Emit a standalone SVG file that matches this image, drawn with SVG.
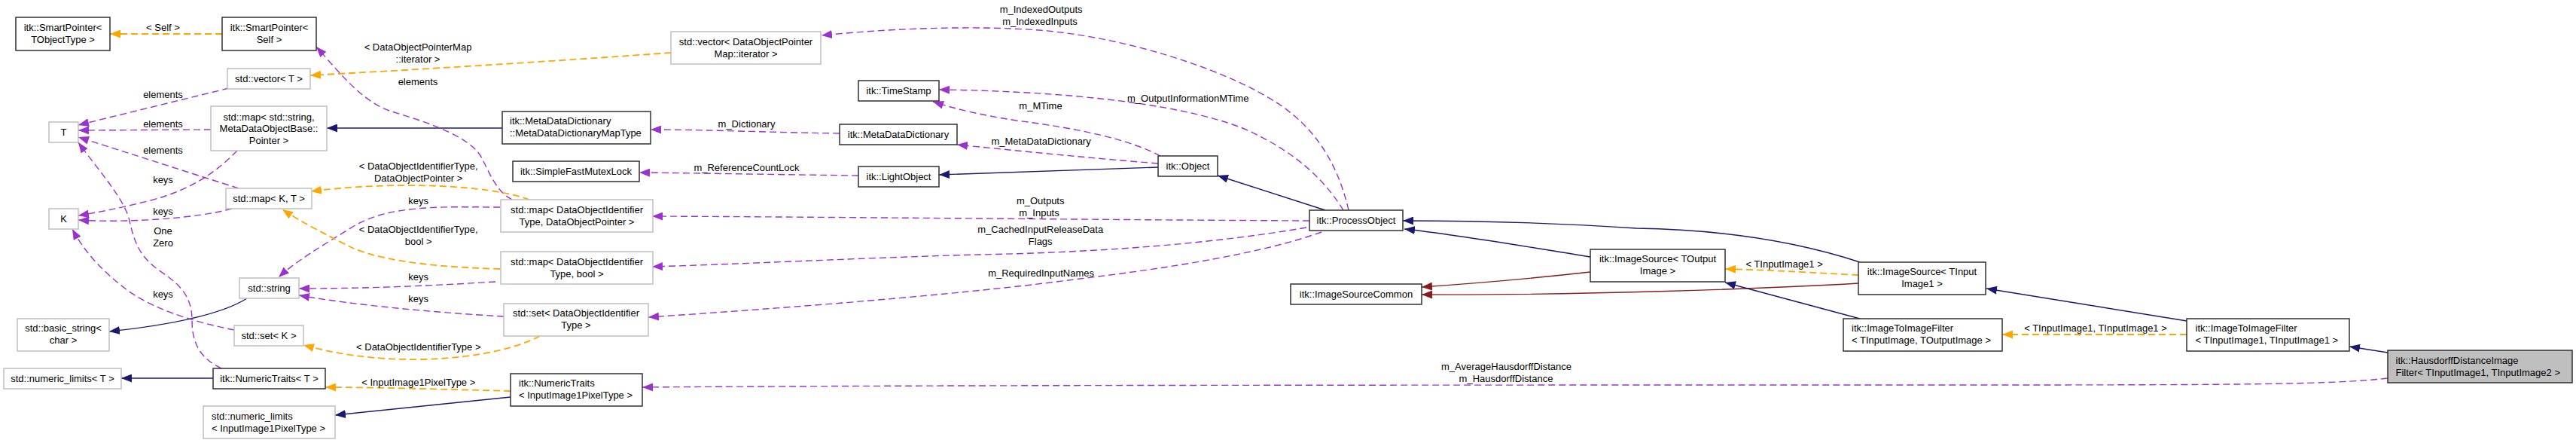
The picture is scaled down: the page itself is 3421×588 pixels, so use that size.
<svg xmlns="http://www.w3.org/2000/svg" width="3421" height="588" viewBox="0 0 3421 588">
<style>
text{font-family:"Liberation Sans",Arial,sans-serif;font-size:13px;fill:#000}
.c{text-anchor:middle}
.n rect{fill:#fff;stroke:#303030;stroke-width:1.5}
.g rect{fill:#fff;stroke:#bfbfbf;stroke-width:1.5}
.h rect{fill:#bfbfbf;stroke:#303030;stroke-width:1.5}
#edges path{fill:none;stroke-width:1.4}
.p{stroke:#9a32cd;stroke-dasharray:9,5}
.o{stroke:#ffa500;stroke-dasharray:9,5;stroke-width:1.8!important}
.b{stroke:#191970}
.r{stroke:#8b1a1a}
</style>
<defs>
<marker id="ap" markerUnits="userSpaceOnUse" markerWidth="14" markerHeight="11" viewBox="0 0 14 11" refX="14" refY="5.5" orient="auto"><path d="M0,0L14,5.5L0,11z" fill="#9a32cd"/></marker>
<marker id="ao" markerUnits="userSpaceOnUse" markerWidth="14" markerHeight="11" viewBox="0 0 14 11" refX="14" refY="5.5" orient="auto"><path d="M0,0L14,5.5L0,11z" fill="#ffa500"/></marker>
<marker id="ab" markerUnits="userSpaceOnUse" markerWidth="14" markerHeight="11" viewBox="0 0 14 11" refX="14" refY="5.5" orient="auto"><path d="M0,0L14,5.5L0,11z" fill="#191970"/></marker>
<marker id="ar" markerUnits="userSpaceOnUse" markerWidth="14" markerHeight="11" viewBox="0 0 14 11" refX="14" refY="5.5" orient="auto"><path d="M0,0L14,5.5L0,11z" fill="#8b1a1a"/></marker>
</defs>
<rect width="3421" height="588" fill="#fff"/>
<g id="edges">
<path class="o" marker-end="url(#ao)" d="M295,45L146,45"/>
<text class="c" x="216.5" y="40.5">&lt; Self &gt;</text>
<path class="o" marker-end="url(#ao)" d="M891,70C780,78 600,90 412,100"/>
<text class="c" x="555" y="67">&lt; DataObjectPointerMap</text>
<text class="c" x="555" y="83">::iterator &gt;</text>
<path class="p" marker-end="url(#ap)" d="M304,117L104,166"/>
<text class="c" x="216.5" y="129.5">elements</text>
<path class="p" marker-end="url(#ap)" d="M280,172L104,173"/>
<text class="c" x="216.5" y="168.8">elements</text>
<path class="p" marker-end="url(#ap)" d="M317,250L104,182"/>
<text class="c" x="216.5" y="203.8">elements</text>
<path class="p" marker-end="url(#ap)" d="M294,489C265,475 255,455 255,425C255,390 235,375 210,358C185,340 178,320 172,293C166,265 130,225 104,189"/>
<text class="c" x="216.5" y="311.2">One</text>
<text class="c" x="216.5" y="327.2">Zero</text>
<path class="p" marker-end="url(#ap)" d="M315,200C290,225 260,250 200,266C160,276 130,282 104,286"/>
<text class="c" x="216.5" y="243.2">keys</text>
<path class="p" marker-end="url(#ap)" d="M308,277C260,290 170,296 104,292"/>
<text class="c" x="216.5" y="284.5">keys</text>
<path class="p" marker-end="url(#ap)" d="M311,438C260,428 200,410 165,382C130,355 110,330 96,304"/>
<text class="c" x="216.5" y="395.2">keys</text>
<path class="b" marker-end="url(#ab)" d="M328,396C290,420 210,433 145,440"/>
<path class="b" marker-end="url(#ab)" d="M283,502L161,502"/>
<path class="b" marker-end="url(#ab)" d="M667,170L434,170"/>
<path class="p" marker-end="url(#ap)" d="M680,265C660,255 650,230 640,210C625,180 560,160 520,148C480,135 450,95 420,62"/>
<text class="c" x="555" y="113.2">elements</text>
<path class="o" marker-end="url(#ao)" d="M703,265C650,245 520,240 413,254"/>
<text class="c" x="555.7" y="225.2">&lt; DataObjectIdentifierType,</text>
<text class="c" x="555.7" y="241.2">DataObjectPointer &gt;</text>
<path class="p" marker-end="url(#ap)" d="M664,275C600,275 520,270 470,300C430,325 395,345 370,368"/>
<text class="c" x="555.7" y="271.2">keys</text>
<path class="o" marker-end="url(#ao)" d="M664,357C600,355 520,350 470,330C440,315 400,295 375,278"/>
<text class="c" x="555.7" y="309.2">&lt; DataObjectIdentifierType,</text>
<text class="c" x="555.7" y="325.2">bool &gt;</text>
<path class="p" marker-end="url(#ap)" d="M658,374C560,380 480,383 397,383"/>
<text class="c" x="555.7" y="372.2">keys</text>
<path class="p" marker-end="url(#ap)" d="M669,420C580,415 470,405 397,392"/>
<text class="c" x="555.7" y="401.2">keys</text>
<path class="o" marker-end="url(#ao)" d="M717,446C690,460 640,475 560,477C490,478 440,468 403,458"/>
<text class="c" x="555.8" y="465.2">&lt; DataObjectIdentifierType &gt;</text>
<path class="o" marker-end="url(#ao)" d="M678,519C600,517 500,514 432,514"/>
<text class="c" x="555.8" y="511.8">&lt; InputImage1PixelType &gt;</text>
<path class="b" marker-end="url(#ab)" d="M678,527L445,551"/>
<path class="p" marker-end="url(#ap)" d="M1115,177C1030,176 940,172 864,172"/>
<text class="c" x="991.5" y="169.2">m_Dictionary</text>
<path class="p" marker-end="url(#ap)" d="M1140,233C1050,232 940,230 849,229"/>
<text class="c" x="991.5" y="227.2">m_ReferenceCountLock</text>
<path class="b" marker-end="url(#ab)" d="M1538,222L1247,232"/>
<path class="p" marker-end="url(#ap)" d="M1541,207C1500,185 1430,170 1350,160C1300,152 1270,145 1239,135"/>
<text class="c" x="1382" y="145.2">m_MTime</text>
<path class="p" marker-end="url(#ap)" d="M1538,217C1450,210 1350,200 1271,192"/>
<text class="c" x="1382.6" y="192.2">m_MetaDataDictionary</text>
<path class="p" marker-end="url(#ap)" d="M1784,279C1760,240 1720,200 1650,170C1560,135 1400,121 1247,119"/>
<text class="c" x="1577.7" y="135.2">m_OutputInformationMTime</text>
<path class="p" marker-end="url(#ap)" d="M1791,279C1775,210 1740,160 1680,127C1620,92 1500,50 1380,40C1280,33 1170,39 1091,47"/>
<text class="c" x="1382.6" y="17.2">m_IndexedOutputs</text>
<text class="c" x="1381" y="33.2">m_IndexedInputs</text>
<path class="b" marker-end="url(#ab)" d="M1760,279L1617,233"/>
<path class="p" marker-end="url(#ap)" d="M1739,293C1500,292 1100,288 866,287"/>
<text class="c" x="1381.7" y="271.2">m_Outputs</text>
<text class="c" x="1380" y="287.2">m_Inputs</text>
<path class="p" marker-end="url(#ap)" d="M1735,302C1600,325 1450,335 1300,338C1150,342 1000,350 866,354"/>
<text class="c" x="1381.7" y="309.2">m_CachedInputReleaseData</text>
<text class="c" x="1381.7" y="325.2">Flags</text>
<path class="p" marker-end="url(#ap)" d="M1755,308C1680,335 1560,355 1434,370C1300,388 1100,405 861,421"/>
<text class="c" x="1382.6" y="367.2">m_RequiredInputNames</text>
<path class="b" marker-end="url(#ab)" d="M2470,348C2400,325 2300,305 2173,303C2070,296 1950,293 1863,293"/>
<path class="b" marker-end="url(#ab)" d="M2112,341C2030,328 1940,312 1865,304"/>
<path class="r" marker-end="url(#ar)" d="M2112,361C2050,368 1960,376 1888,381"/>
<path class="r" marker-end="url(#ar)" d="M2468,376C2350,383 2100,392 1888,391"/>
<path class="o" marker-end="url(#ao)" d="M2468,365C2410,362 2340,358 2291,357"/>
<text class="c" x="2369.6" y="355.2">&lt; TInputImage1 &gt;</text>
<path class="b" marker-end="url(#ab)" d="M2470,423L2291,375"/>
<path class="b" marker-end="url(#ab)" d="M2904,426L2638,383"/>
<path class="o" marker-end="url(#ao)" d="M2904,444L2659,444"/>
<text class="c" x="2783" y="440.2">&lt; TInputImage1, TInputImage1 &gt;</text>
<path class="b" marker-end="url(#ab)" d="M3171,468L3120,460"/>
<path class="p" marker-end="url(#ap)" d="M3171,502C3100,510 3000,511 2600,511C2000,511 1200,511 853,514"/>
<text class="c" x="2000.5" y="491.2">m_AverageHausdorffDistance</text>
<text class="c" x="2000" y="506.5">m_HausdorffDistance</text>
</g>
<g id="n_sp_tobj" class="n"><rect x="21" y="23" width="125" height="44"/><text class="c" x="83.5" y="40.5">itk::SmartPointer&lt;</text><text class="c" x="83.5" y="56.8">TObjectType &gt;</text></g>
<g id="n_sp_self" class="n"><rect x="295" y="23" width="125" height="44"/><text class="c" x="357.5" y="40.5">itk::SmartPointer&lt;</text><text class="c" x="357.5" y="56.8">Self &gt;</text></g>
<g id="n_vecT" class="g"><rect x="302" y="91" width="110" height="27"/><text class="c" x="357" y="108.5">std::vector&lt; T &gt;</text></g>
<g id="n_T" class="g"><rect x="65" y="162" width="39" height="27"/><text class="c" x="84.5" y="179.5">T</text></g>
<g id="n_mapstr" class="g"><rect x="280" y="141" width="154" height="59"/><text class="c" x="357" y="159.5">std::map&lt; std::string,</text><text class="c" x="357" y="175.2">MetaDataObjectBase::</text><text class="c" x="357" y="190.5">Pointer &gt;</text></g>
<g id="n_mapKT" class="g"><rect x="300" y="250" width="114" height="27"/><text class="c" x="357" y="268">std::map&lt; K, T &gt;</text></g>
<g id="n_K" class="g"><rect x="65" y="277" width="39" height="27"/><text class="c" x="84.5" y="295">K</text></g>
<g id="n_string" class="g"><rect x="318" y="369" width="79" height="27"/><text class="c" x="357.5" y="387">std::string</text></g>
<g id="n_basic" class="g"><rect x="23" y="423" width="122" height="43"/><text class="c" x="84" y="440.2">std::basic_string&lt;</text><text class="c" x="84" y="456.2">char &gt;</text></g>
<g id="n_setK" class="g"><rect x="311" y="432" width="92" height="27"/><text class="c" x="357" y="449.5">std::set&lt; K &gt;</text></g>
<g id="n_nlT" class="g"><rect x="5" y="489" width="156" height="27"/><text class="c" x="83" y="507">std::numeric_limits&lt; T &gt;</text></g>
<g id="n_ntT" class="n"><rect x="283" y="489" width="149" height="27"/><text class="c" x="357.5" y="507">itk::NumericTraits&lt; T &gt;</text></g>
<g id="n_nlIP" class="g"><rect x="270" y="539" width="175" height="43"/><text x="281" y="557">std::numeric_limits</text><text x="281" y="573">&lt; InputImage1PixelType &gt;</text></g>
<g id="n_mapType" class="n"><rect x="667" y="148" width="197" height="43"/><text x="677" y="165.2">itk::MetaDataDictionary</text><text x="677" y="181.2">::MetaDataDictionaryMapType</text></g>
<g id="n_mutex" class="n"><rect x="681" y="214" width="168" height="27"/><text class="c" x="765" y="232">itk::SimpleFastMutexLock</text></g>
<g id="n_mapDOP" class="g"><rect x="665" y="265" width="202" height="43"/><text class="c" x="766" y="282.8">std::map&lt; DataObjectIdentifier</text><text class="c" x="766" y="298.8">Type, DataObjectPointer &gt;</text></g>
<g id="n_mapBool" class="g"><rect x="665" y="334" width="202" height="43"/><text class="c" x="766" y="352.2">std::map&lt; DataObjectIdentifier</text><text class="c" x="766" y="367.8">Type, bool &gt;</text></g>
<g id="n_setDOIT" class="g"><rect x="669" y="403" width="192" height="43"/><text class="c" x="765" y="420.2">std::set&lt; DataObjectIdentifier</text><text class="c" x="765" y="436.2">Type &gt;</text></g>
<g id="n_ntIP" class="n"><rect x="678" y="496" width="175" height="43"/><text x="689" y="513.2">itk::NumericTraits</text><text x="689" y="529.2">&lt; InputImage1PixelType &gt;</text></g>
<g id="n_vecIter" class="g"><rect x="891" y="42" width="199" height="43"/><text class="c" x="990.5" y="60.2">std::vector&lt; DataObjectPointer</text><text class="c" x="990.5" y="76.2">Map::iterator &gt;</text></g>
<g id="n_ts" class="n"><rect x="1140" y="107" width="107" height="27"/><text class="c" x="1193.5" y="125">itk::TimeStamp</text></g>
<g id="n_mdd" class="n"><rect x="1115" y="165" width="156" height="27"/><text class="c" x="1193" y="183">itk::MetaDataDictionary</text></g>
<g id="n_light" class="n"><rect x="1140" y="221" width="107" height="27"/><text class="c" x="1193.5" y="239">itk::LightObject</text></g>
<g id="n_obj" class="n"><rect x="1538" y="207" width="79" height="27"/><text class="c" x="1577.5" y="224.5">itk::Object</text></g>
<g id="n_po" class="n"><rect x="1739" y="279" width="124" height="27"/><text class="c" x="1801" y="297">itk::ProcessObject</text></g>
<g id="n_isc" class="n"><rect x="1714" y="377" width="174" height="27"/><text class="c" x="1801" y="395">itk::ImageSourceCommon</text></g>
<g id="n_isOut" class="n"><rect x="2112" y="331" width="179" height="43"/><text class="c" x="2201.5" y="347.8">itk::ImageSource&lt; TOutput</text><text class="c" x="2201.5" y="363.8">Image &gt;</text></g>
<g id="n_isIn" class="n"><rect x="2468" y="348" width="169" height="43"/><text class="c" x="2552.5" y="365.2">itk::ImageSource&lt; TInput</text><text class="c" x="2552.5" y="381.2">Image1 &gt;</text></g>
<g id="n_itifOut" class="n"><rect x="2448" y="423" width="211" height="43"/><text x="2459" y="440.2">itk::ImageToImageFilter</text><text x="2459" y="456.2">&lt; TInputImage, TOutputImage &gt;</text></g>
<g id="n_itif11" class="n"><rect x="2904" y="423" width="216" height="43"/><text x="2915.5" y="440.2">itk::ImageToImageFilter</text><text x="2915.5" y="456.2">&lt; TInputImage1, TInputImage1 &gt;</text></g>
<g id="n_haus" class="h"><rect x="3171" y="465" width="245" height="43"/><text x="3181.5" y="483.2">itk::HausdorffDistanceImage</text><text x="3181.5" y="499.2">Filter&lt; TInputImage1, TInputImage2 &gt;</text></g>
</svg>
